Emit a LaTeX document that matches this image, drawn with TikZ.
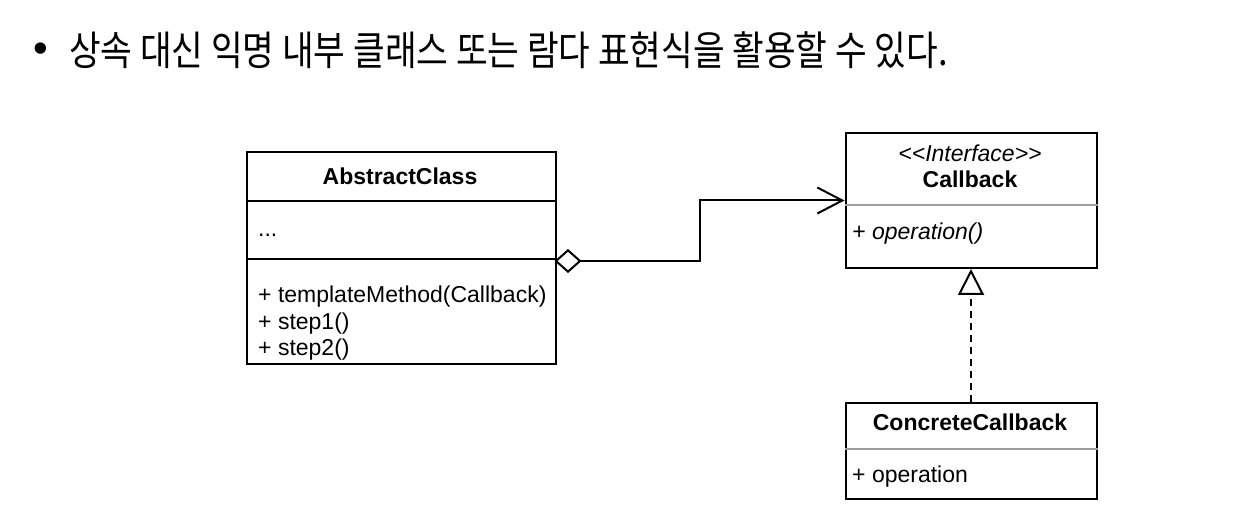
\documentclass[tikz,border=0pt]{standalone}
\usepackage{fontspec}
\setmainfont{Liberation Sans}
\newfontfamily\krfont[FakeStretch=0.85]{Noto Sans CJK KR}
\usetikzlibrary{arrows.meta}
\begin{document}
\begin{tikzpicture}[x=1pt,y=-1pt,
  umlbox/.style={draw=black, line width=2pt, rectangle, inner sep=0pt, anchor=north west},
  graydiv/.style={draw=black!38, line width=1.5pt},
  blackdiv/.style={draw=black, line width=2pt},
  lbl/.style={inner sep=0pt, font=\fontsize{23}{27}\selectfont},
  conn/.style={line width=2pt, draw=black}
]
\useasboundingbox (0,0) rectangle (1243,518);
\fill[white] (0,0) rectangle (1243,518);

% title
\node[inner sep=0pt, anchor=center, font=\fontsize{42}{46}\selectfont] (bullet) at (40.5,53) {•};
\node[inner sep=0pt, anchor=base west, font=\krfont\fontsize{40.5}{46}\selectfont] (title) at (69,66) {상속 대신 익명 내부 클래스 또는 람다 표현식을 활용할 수 있다.};

% AbstractClass
\node[umlbox, minimum width=309pt, minimum height=212pt] (abs) at (245.5,151) {};
\draw[blackdiv] ([yshift=-50pt]abs.north west) -- ([yshift=-50pt]abs.north east);
\draw[blackdiv] ([yshift=-108pt]abs.north west) -- ([yshift=-108pt]abs.north east);
\node[lbl, anchor=base, font=\fontsize{23}{27}\selectfont\bfseries] (absname) at (400,185) {AbstractClass};
\node[lbl, anchor=base west] (absattr) at (258,237) {...};
\node[lbl, anchor=base west] (m1) at (258,303) {+ templateMethod(Callback)};
\node[lbl, anchor=base west] (m2) at (258,329.5) {+ step1()};
\node[lbl, anchor=base west] (m3) at (258,356) {+ step2()};

% Callback interface
\node[umlbox, minimum width=251pt, minimum height=135pt] (cb) at (844.5,132) {};
\draw[graydiv] ([yshift=-73pt]cb.north west) -- ([yshift=-73pt]cb.north east);
\node[lbl, anchor=base, font=\fontsize{23}{27}\selectfont\itshape] (cbst) at (970,161.5) {<{}<Interface>{}>};
\node[lbl, anchor=base, font=\fontsize{23}{27}\selectfont\bfseries] (cbname) at (970,188) {Callback};
\node[lbl, anchor=base west, font=\fontsize{23}{27}\selectfont\itshape] (cbop) at (852,240) {+ operation()};

% ConcreteCallback
\node[umlbox, minimum width=251pt, minimum height=96pt] (cc) at (844.5,402) {};
\draw[graydiv] ([yshift=-47pt]cc.north west) -- ([yshift=-47pt]cc.north east);
\node[lbl, anchor=base, font=\fontsize{23}{27}\selectfont\bfseries] (ccname) at (970,431) {ConcreteCallback};
\node[lbl, anchor=base west] (ccop) at (852,483) {+ operation};

% connectors
\coordinate (aggS) at (554.5,261);
\draw[conn, {Diamond[open, length=27pt, width=24pt]}-{Straight Barb[length=25pt, width=26pt]}]
  (aggS) -- ++(145.5,0) |- (cb.west);
\draw[conn, dash pattern=on 7pt off 5pt, -{Triangle[open, length=26pt, width=26pt]}]
  (cc.north) -- (cb.south);
\end{tikzpicture}
\end{document}
